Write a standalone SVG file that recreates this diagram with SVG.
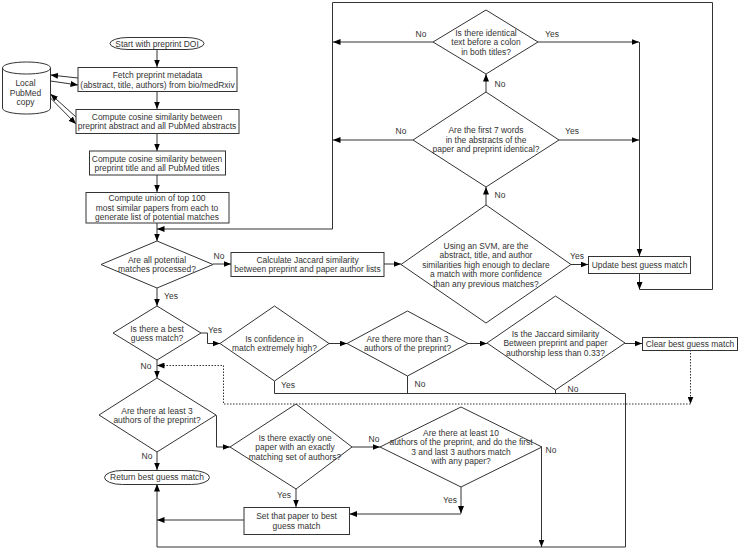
<svg xmlns="http://www.w3.org/2000/svg" width="740" height="550" viewBox="0 0 740 550">
<defs>
<marker id="arrow" markerUnits="userSpaceOnUse" markerWidth="8" markerHeight="6" refX="7.5" refY="3" orient="auto"><path d="M0 0L7.5 3L0 6Z" fill="#000"/></marker>
<style>
.s{fill:#fff;stroke:#333;stroke-width:1}
.c{fill:none;stroke:#333;stroke-width:1}
.a{marker-end:url(#arrow)}
.d{stroke-dasharray:1.5 1.5}
text{font-family:"Liberation Sans",Arial,sans-serif;font-size:8.45px;fill:#333;text-anchor:middle}
</style>
</defs>
<rect width="740" height="550" fill="#fff"/>
<g id="connectors">
<path class="c a" d="M157 49.500V67"/>
<path class="c a" d="M157 91V109"/>
<path class="c a" d="M157 133V151"/>
<path class="c a" d="M157 175V192"/>
<path class="c a" d="M157 223V241"/>
<path class="c a" d="M78 78L50.500 75"/>
<path class="c a" d="M50.500 81L78 85"/>
<path class="c a" d="M76 117L50.500 94"/>
<path class="c a" d="M50.500 98L76 124"/>
<path class="c" d="M639.500 289.500H712.500V2.500H332.500"/>
<path class="c a" d="M332.500 2.500V229H157"/>
<path class="c a" d="M213 264H231"/>
<path class="c a" d="M384 264H401"/>
<path class="c a" d="M486 205V187"/>
<path class="c a" d="M486 92V74"/>
<path class="c a" d="M433 42H333"/>
<path class="c a" d="M413 140H333"/>
<path class="c a" d="M538 42H639"/>
<path class="c a" d="M559 140H639"/>
<path class="c a" d="M639.500 42V256"/>
<path class="c a" d="M571 264.500H588"/>
<path class="c a" d="M639.500 273V289.500"/>
<path class="c a" d="M157 288V306"/>
<path class="c a" d="M157 360V378"/>
<path class="c a" d="M201 333H207.500V343.500H220"/>
<path class="c a" d="M329 343.500H347"/>
<path class="c a" d="M468 343.500H487"/>
<path class="c a" d="M625 343.500H642"/>
<path class="c" d="M274.500 381V393.500H625.500V547H157"/>
<path class="c" d="M407.500 376V393.500"/>
<path class="c" d="M555.500 390V393.500"/>
<path class="c a" d="M157 547V484"/>
<path class="c a d" d="M690.500 350V404"/>
<path class="c a d" d="M690.500 404H223.500V365.500H157"/>
<path class="c a" d="M157 452V470"/>
<path class="c a" d="M216 415.500H216.500V447H230"/>
<path class="c a" d="M352 447H380"/>
<path class="c a" d="M296 489V507"/>
<path class="c a" d="M461 487V513.500"/>
<path class="c a" d="M461 514H349.500"/>
<path class="c a" d="M244 520H157"/>
<path class="c a" d="M541.500 447V547"/>
</g>
<g id="start"><rect class="s" x="110" y="37.500" width="94" height="12" rx="18" ry="6"/><text x="157" y="46.500">Start with preprint DOI</text></g>
<g id="pubmed"><path class="s" d="M2.500 68C2.500 60 50.500 60 50.500 68V108C50.500 116 2.500 116 2.500 108Z"/><path class="c" d="M2.500 68C2.500 76 50.500 76 50.500 68"/><text x="25.500" y="86">Local</text><text x="25.500" y="96">PubMed</text><text x="25.500" y="105">copy</text></g>
<g id="fetch"><rect class="s" x="78" y="67.500" width="159" height="24"/><text x="157.500" y="78">Fetch preprint metadata</text><text x="157.500" y="88">(abstract, title, authors) from bio/medRxiv</text></g>
<g id="abstract"><rect class="s" x="76" y="109.500" width="163" height="24"/><text x="157" y="120">Compute cosine similarity between</text><text x="157" y="129">preprint abstract and all PubMed abstracts</text></g>
<g id="title"><rect class="s" x="89.500" y="151" width="136" height="24"/><text x="157" y="161.500">Compute cosine similarity between</text><text x="157" y="171">preprint title and all PubMed titles</text></g>
<g id="union"><rect class="s" x="86" y="192.500" width="143" height="30.500"/><text x="157" y="201">Compute union of top 100</text><text x="157" y="210.500">most similar papers from each to</text><text x="157" y="220">generate list of potential matches</text></g>
<g id="d-all"><path class="s" d="M157 241L213 264.500L157 288L101 264.500Z"/><text x="157" y="263">Are all potential</text><text x="157" y="272">matches processed?</text></g>
<g id="calc"><rect class="s" x="231" y="252.500" width="153" height="24"/><text x="307.500" y="263">Calculate Jaccard similarity</text><text x="307.500" y="272">between preprint and paper author lists</text></g>
<g id="d-svm"><path class="s" d="M486 205L571 264.500L486 323L401 264.500Z"/><text x="486" y="249">Using an SVM, are the</text><text x="486" y="258">abstract, title, and author</text><text x="486" y="267.500">similarities high enough to declare</text><text x="486" y="277">a match with more confidence</text><text x="486" y="286.500">than any previous matches?</text></g>
<g id="d-words"><path class="s" d="M486 92L559 140L486 187L413 140Z"/><text x="486" y="133">Are the first 7 words</text><text x="486" y="143">in the abstracts of the</text><text x="486" y="152">paper and preprint identical?</text></g>
<g id="d-colon"><path class="s" d="M486 10L538 42L486 74L433 42Z"/><text x="486" y="36">Is there identical</text><text x="486" y="45">text before a colon</text><text x="486" y="55">in both titles?</text></g>
<g id="update"><rect class="s" x="588.500" y="256.500" width="102" height="17"/><text x="639.500" y="268">Update best guess match</text></g>
<g id="d-best"><path class="s" d="M157 306L201 333L157 360L113 333Z"/><text x="157" y="331.500">Is there a best</text><text x="157" y="341">guess match?</text></g>
<g id="d-conf"><path class="s" d="M274.500 306L329 343.500L274.500 381L220 343.500Z"/><text x="274.500" y="342">Is confidence in</text><text x="274.500" y="351">match extremely high?</text></g>
<g id="d-more"><path class="s" d="M407.500 311L468 343.500L407.500 376L347 343.500Z"/><text x="407.500" y="341.500">Are there more than 3</text><text x="407.500" y="351">authors of the preprint?</text></g>
<g id="d-jacc"><path class="s" d="M555.500 296L625 343L555.500 390L487 343Z"/><text x="555.500" y="337">Is the Jaccard similarity</text><text x="555.500" y="346">Between preprint and paper</text><text x="555.500" y="356">authorship less than 0.33?</text></g>
<g id="clear"><rect class="s" x="642.500" y="337.500" width="95" height="13"/><text x="690" y="346.500">Clear best guess match</text></g>
<g id="d-least3"><path class="s" d="M157 378L216 415L157 452L99 415Z"/><text x="157" y="414">Are there at least 3</text><text x="157" y="423">authors of the preprint?</text></g>
<g id="return"><rect class="s" x="104.500" y="470.500" width="105" height="14" rx="18" ry="7"/><text x="157" y="480">Return best guess match</text></g>
<g id="d-exact"><path class="s" d="M296 404L352 447L296 489L230 447Z"/><text x="295" y="441">Is there exactly one</text><text x="295" y="450">paper with an exactly</text><text x="295" y="460">matching set of authors?</text></g>
<g id="d-ten"><path class="s" d="M461 407L542 447L461 487L380 447Z"/><text x="461" y="436">Are there at least 10</text><text x="461" y="445">authors of the preprint, and do the first</text><text x="461" y="455">3 and last 3 authors match</text><text x="461" y="464">with any paper?</text></g>
<g id="set"><rect class="s" x="244" y="507.500" width="105.500" height="27"/><text x="296.500" y="519">Set that paper to best</text><text x="296.500" y="529">guess match</text></g>
<g id="labels">
<text x="421" y="37">No</text><text x="552" y="37">Yes</text><text x="500" y="87">No</text>
<text x="401" y="134">No</text><text x="572" y="134">Yes</text><text x="500" y="198">No</text>
<text x="577" y="259">Yes</text><text x="219" y="259">No</text><text x="171" y="299">Yes</text>
<text x="215" y="333">Yes</text><text x="146" y="369">No</text><text x="288" y="388">Yes</text>
<text x="420" y="387">No</text><text x="573" y="392">No</text><text x="147" y="459">No</text>
<text x="284" y="498">Yes</text><text x="374" y="442">No</text><text x="551" y="453">No</text><text x="450" y="503">Yes</text>
</g>
</svg>
